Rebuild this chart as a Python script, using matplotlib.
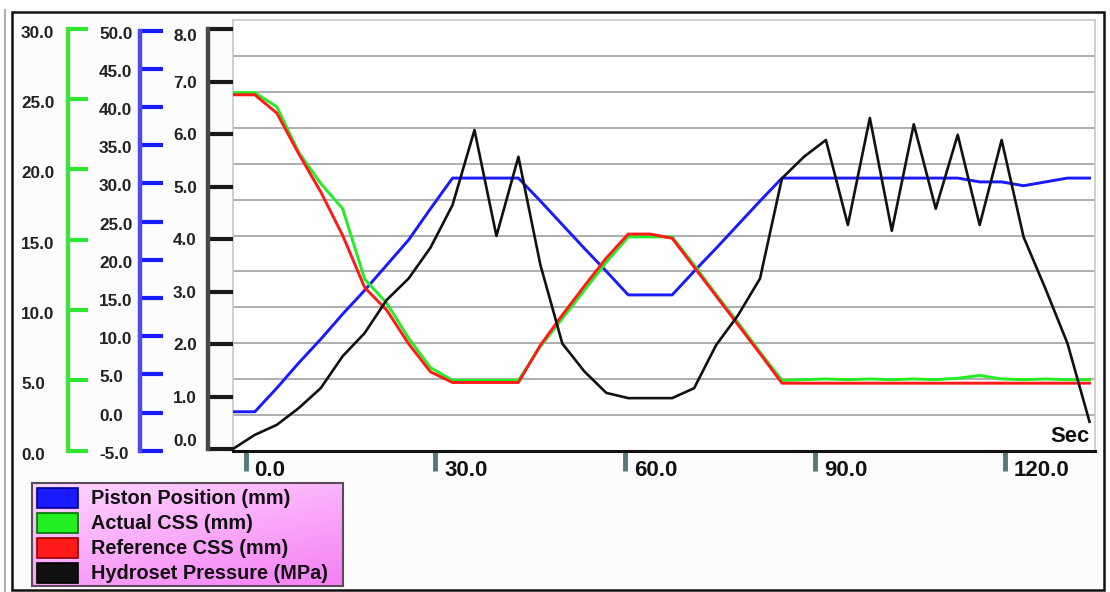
import matplotlib.pyplot as plt
import numpy as np
from matplotlib.patches import Rectangle
from matplotlib.transforms import ScaledTranslation

W, H = 1110, 592
plt.rcParams['font.family'] = ['Liberation Sans', 'DejaVu Sans']
plt.rcParams['font.weight'] = 'bold'

# samples every ~3.47 s, first one just before 0.0
t0, dt = -2.0, 3.47

piston = [0.1, 0.1, 3.2, 6.5, 9.6, 12.9, 16.0, 19.3, 22.6, 26.7,
          30.7, 30.7, 30.7, 30.7, 27.7, 24.6, 21.5, 18.5, 15.4, 15.4,
          15.4, 18.5, 21.5, 24.6, 27.7, 30.7, 30.7, 30.7, 30.7, 30.7,
          30.7, 30.7, 30.7, 30.7, 30.2, 30.2, 29.7, 30.2, 30.7, 30.7]
actual_css = [25.45, 25.45, 24.45, 21.2, 19.0, 17.2, 12.2, 10.5, 8.0, 5.9,
              5.0, 5.0, 5.0, 5.0, 7.4, 9.4, 11.4, 13.4, 15.2, 15.2,
              15.2, 13.2, 11.1, 9.1, 7.0, 5.0, 5.05, 5.1, 5.05, 5.1,
              5.05, 5.1, 5.05, 5.15, 5.35, 5.1, 5.05, 5.1, 5.05, 5.05]
ref_css = [25.3, 25.3, 24.0, 21.1, 18.4, 15.3, 11.6, 10.0, 7.6, 5.6,
           4.85, 4.85, 4.85, 4.85, 7.5, 9.65, 11.7, 13.7, 15.4, 15.4,
           15.1, 13.05, 11.0, 8.95, 6.9, 4.8, 4.8, 4.8, 4.8, 4.8,
           4.8, 4.8, 4.8, 4.8, 4.8, 4.8, 4.8, 4.8, 4.8, 4.8]
pressure = [0.0, 0.27, 0.46, 0.78, 1.16, 1.77, 2.21, 2.84, 3.25, 3.84,
            4.65, 6.08, 4.06, 5.57, 3.51, 2.01, 1.48, 1.07, 0.97, 0.97,
            0.97, 1.16, 1.98, 2.55, 3.25, 5.16, 5.57, 5.89, 4.27, 6.31,
            4.16, 6.19, 4.58, 5.99, 4.27, 5.89, 4.04, 3.05, 2.01, 0.52]
time = t0 + dt * np.arange(len(pressure))

names = ['Piston Position (mm)', 'Actual CSS (mm)', 'Reference CSS (mm)',
         'Hydroset Pressure (MPa)']
colors = ['#1a1aff', '#22ee22', '#ff1a1a', '#111111']
x_ticks = [0, 30, 60, 90, 120]
css_ticks = np.arange(0, 31, 5)
pos_ticks = np.arange(-5, 51, 5)
mpa_ticks = np.arange(0, 9, 1)


def px(x0, y0, x1, y1):
    return [x0 / W, 1 - y1 / H, (x1 - x0) / W, (y1 - y0) / H]


def nudge(dx, dy):
    return ScaledTranslation(dx / 100, -dy / 100, fig.dpi_scale_trans)


fig = plt.figure(figsize=(W / 100, H / 100), dpi=100)
fig.patch.set_facecolor('white')
fig.add_artist(Rectangle((12 / W, 1 - 590 / H), 1092 / W, 578 / H,
                         transform=fig.transFigure, facecolor='#fcfcfc',
                         edgecolor='#111111', lw=1.8, zorder=-2))
fig.add_artist(plt.Line2D([5 / W, 5 / W], [0, 1 - 10 / H], color='#b0b0b0',
                          lw=1.5, transform=fig.transFigure, zorder=-2))

# plot area with its own 12-band grid
ax = fig.add_axes(px(233, 20, 1095, 451))
ax.set_facecolor('white')
ax.set_xlim(-1.98, 134.2)
ax.set_ylim(0, 12)
for k in range(1, 12):
    ax.axhline(k, color='#a8a8a8', lw=1.3, zorder=0)
ax.set_yticks([])
for s in ['top', 'right', 'left']:
    ax.spines[s].set_color('#c8c8c8')
    ax.spines[s].set_linewidth(1.2)
ax.spines['bottom'].set_color('#111111')
ax.spines['bottom'].set_linewidth(2.2)
ax.set_xticks(x_ticks, [f'{v:.1f}' for v in x_ticks])
ax.tick_params(axis='x', direction='out', length=14.5, width=3.5,
               color='#587878', pad=-8, labelsize=16, labelcolor='#111111')
for lbl in ax.get_xticklabels():
    lbl.set_ha('left')
    lbl.set_transform(lbl.get_transform() + nudge(9, 0))
ax.text((1090 - 233) / 862, (451 - 442) / 431, 'Sec', transform=ax.transAxes,
        ha='right', va='baseline', fontsize=15.8, color='#111111')


def twin(v_a, p_a, v_b, p_b):
    a = fig.add_axes(px(233, 20, 1095, 451), sharex=ax)
    k = (v_b - v_a) / (p_b - p_a)
    a.set_ylim(v_a + (451 - p_a) * k, v_a + (20 - p_a) * k)
    a.axis('off')
    return a


ax_pos = twin(-5, 450.7, 50, 30.7)
ax_css = twin(0, 450.7, 30, 28.7)
ax_mpa = twin(0, 449, 8, 29.3)
ax_pos.plot(time, piston, color=colors[0], lw=2.1)
ax_css.plot(time, actual_css, color=colors[1], lw=2.1)
ax_css.plot(time, ref_css, color=colors[2], lw=2.1)
ax_mpa.plot(time, pressure, color=colors[3], lw=1.9)


def scale(xpix, top, bot, ticks, tcol, scol, tick_len, label_left, drop):
    s = fig.add_axes(px(xpix, top, xpix + 1, bot))
    s.set_ylim(ticks[0], ticks[-1])
    s.patch.set_visible(False)
    for n in ['top', 'right', 'bottom']:
        s.spines[n].set_visible(False)
    s.spines['left'].set_color(scol)
    s.spines['left'].set_linewidth(3.2)
    s.set_xticks([])
    s.set_yticks(ticks, [f'{v:.1f}' for v in ticks])
    s.tick_params(axis='y', direction='in', length=tick_len * 0.72, width=3,
                  color=tcol, pad=(xpix - label_left) * 0.72, labelsize=12.3,
                  labelcolor='#222222')
    for lbl in s.get_yticklabels():
        lbl.set_ha('left')
        lbl.set_transform(lbl.get_transform() + nudge(0, drop))
    return s


scale(68, 28.7, 450.7, css_ticks, '#2ee62e', '#44dd44', 20, 21, 3)
scale(139.5, 30.7, 450.7, pos_ticks, '#1a1aff', '#4a4af0', 23, 99, 2)
sm = scale(207.5, 29.3, 449, mpa_ticks, '#1a1a1a', '#484848', 25, 173, 0)
labs = sm.get_yticklabels()
labs[0].set_va('bottom')
labs[-1].set_va('top')

# legend box
lg = fig.add_axes(px(32, 483, 343, 586))
u, v = np.meshgrid(np.linspace(0, 1, 200), np.linspace(0, 1, 60))
f = (0.4 * u + 0.6 * v)[..., None]
light = np.array([1.0, 0.84, 1.0])
dark = np.array([0.96, 0.50, 0.96])
lg.imshow(light * (1 - f) + dark * f, extent=(32, 343, 586, 483),
          aspect='auto', zorder=0)
lg.set_xlim(32, 343)
lg.set_ylim(586, 483)
lg.set_xticks([])
lg.set_yticks([])
for s in lg.spines.values():
    s.set_color('#5a4a5a')
    s.set_linewidth(1.5)
edges = ['#000090', '#007000', '#900000', '#000000']
for i, (name, c) in enumerate(zip(names, colors)):
    y0 = 488 + 25 * i
    lg.add_patch(Rectangle((37, y0), 41, 20, facecolor=c, edgecolor=edges[i],
                           lw=1.2, zorder=2))
    lg.text(91, y0 + 10.5, name, va='center', ha='left', fontsize=14.3,
            color='#111111', zorder=3)

fig.savefig('out.png', dpi=100)
